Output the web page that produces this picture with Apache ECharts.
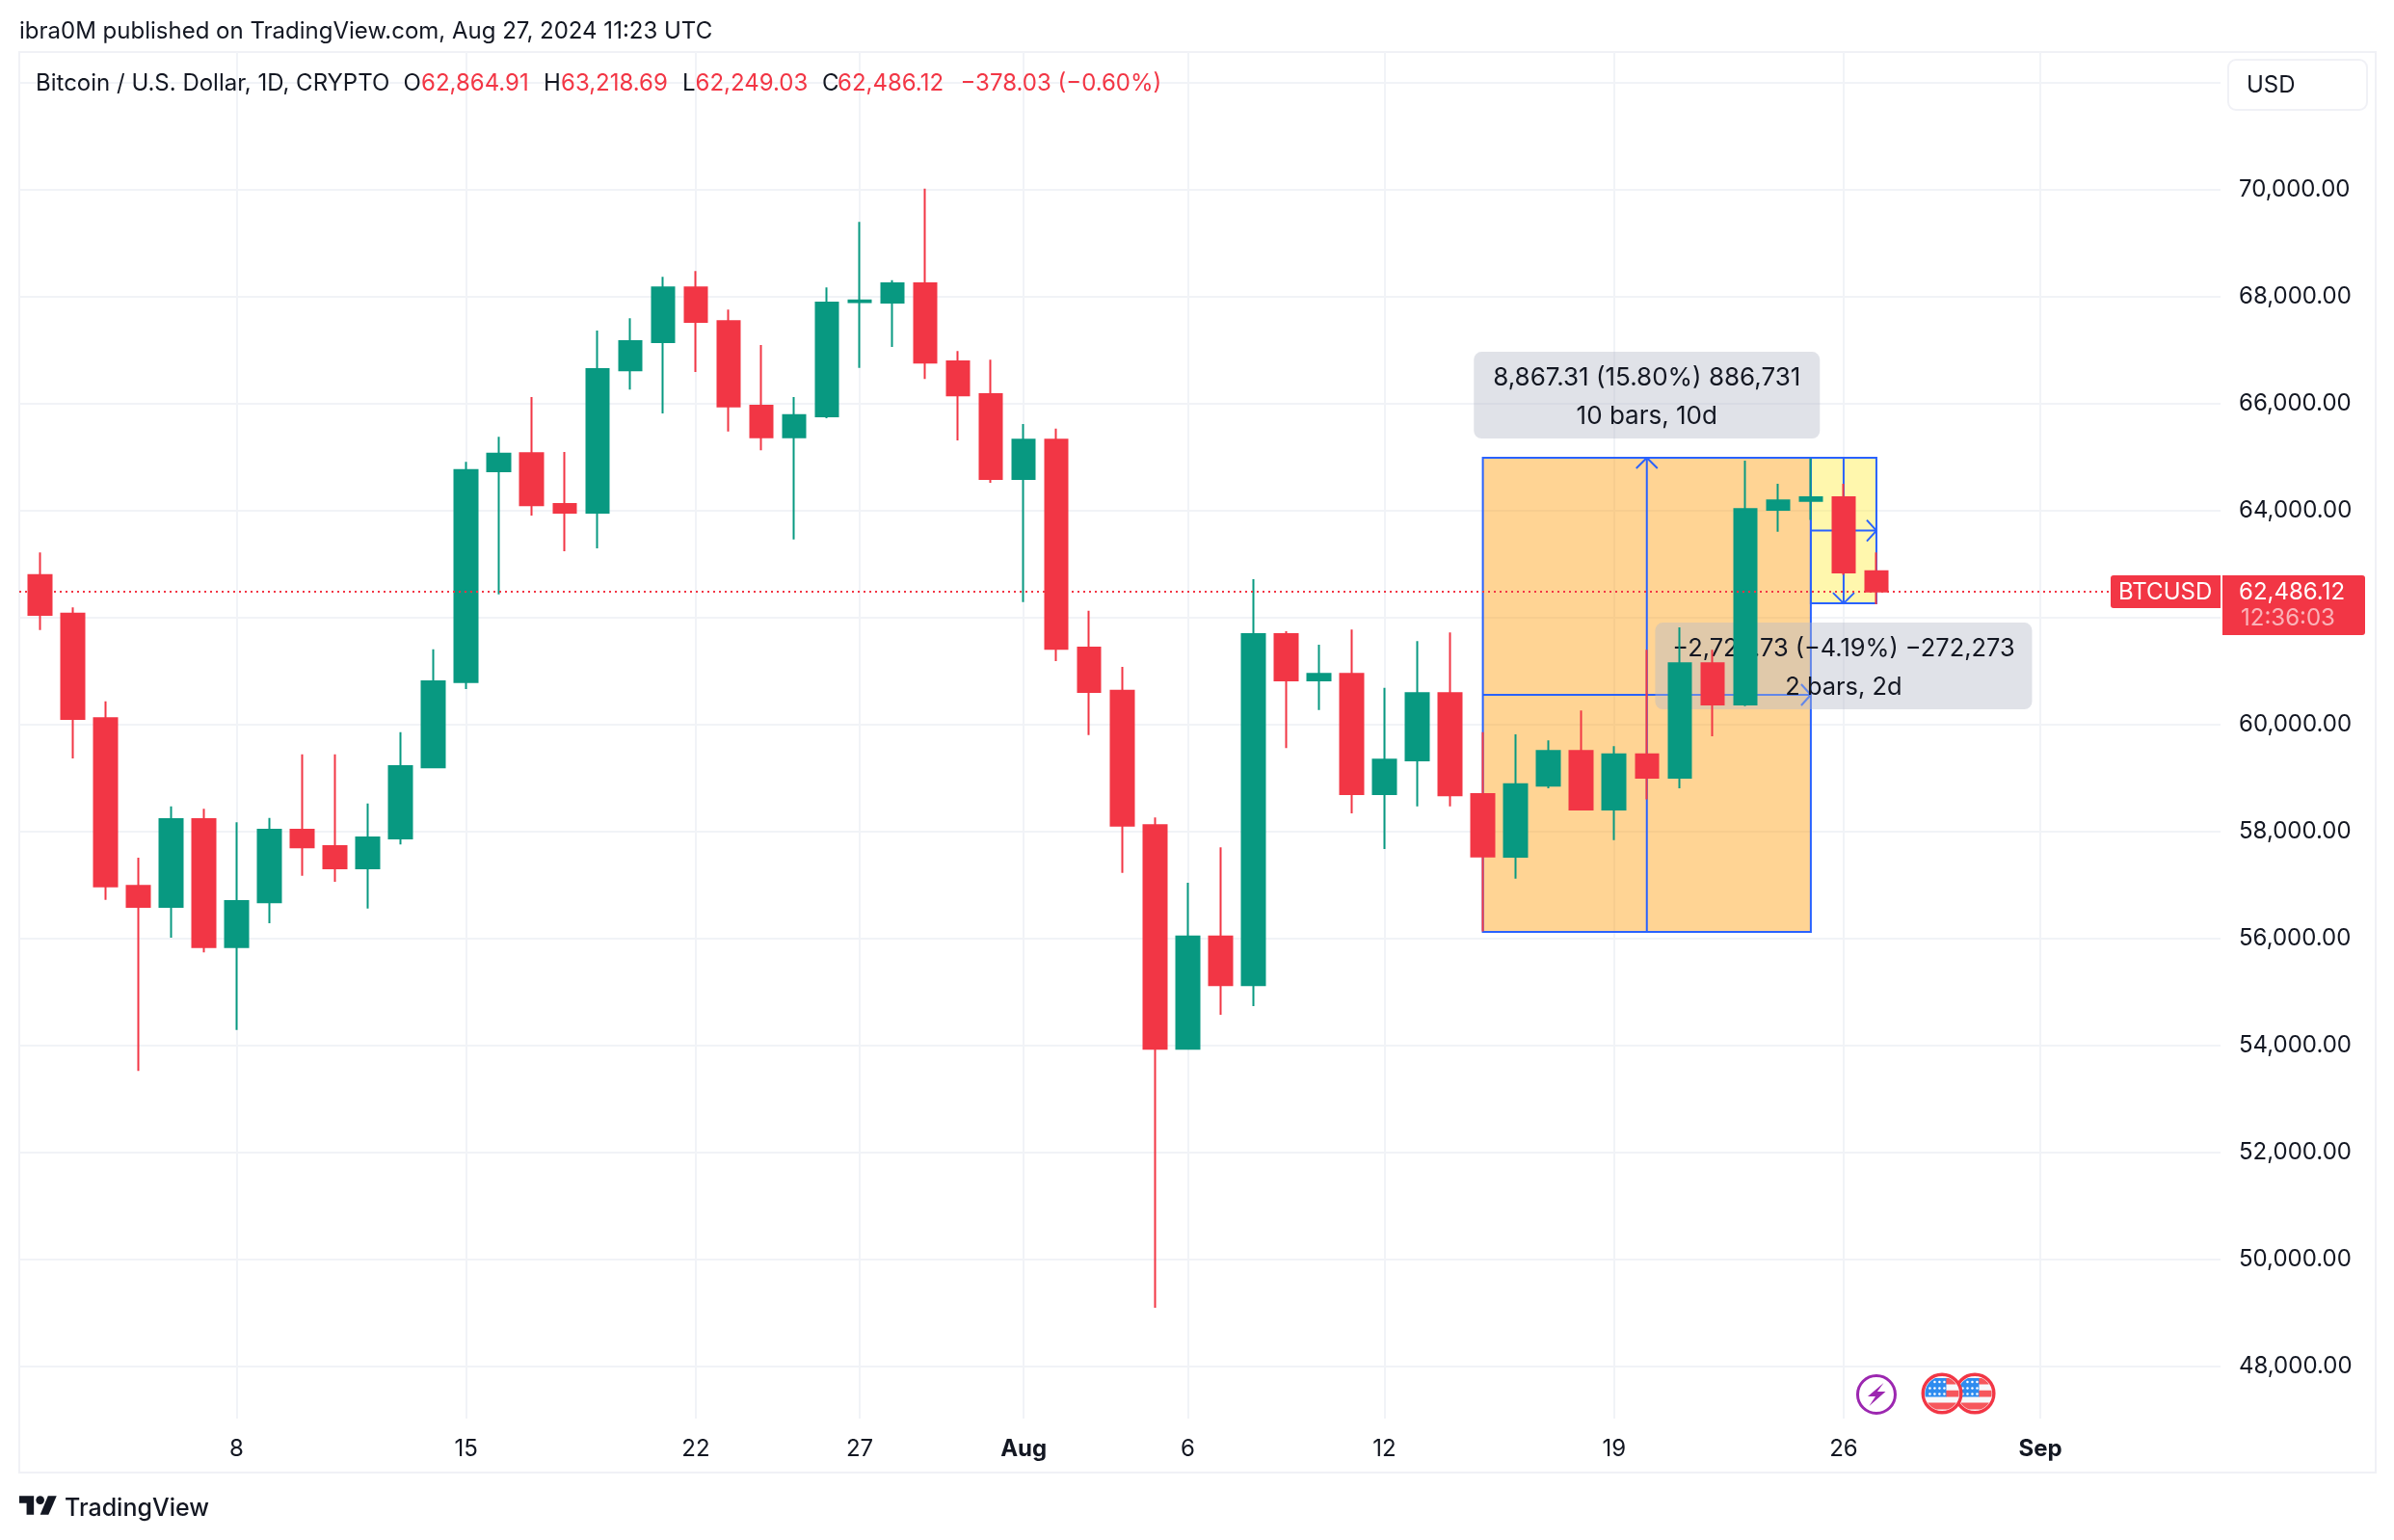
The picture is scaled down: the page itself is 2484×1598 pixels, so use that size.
<!DOCTYPE html>
<html>
<head>
<meta charset="utf-8">
<title>Bitcoin / U.S. Dollar, 1D</title>
<script src="https://cdn.jsdelivr.net/npm/echarts@6/dist/echarts.min.js"></script>
<style>html,body{margin:0;padding:0;background:#fff}#chart{width:2484px;height:1598px}</style>
</head>
<body>
<div id="chart"></div>
<script>
const barDates = ['2024-07-02','2024-07-03','2024-07-04','2024-07-05','2024-07-06','2024-07-07','2024-07-08','2024-07-09','2024-07-10','2024-07-11','2024-07-12','2024-07-13','2024-07-14','2024-07-15','2024-07-16','2024-07-17','2024-07-18','2024-07-19','2024-07-20','2024-07-21','2024-07-22','2024-07-23','2024-07-24','2024-07-25','2024-07-26','2024-07-27','2024-07-28','2024-07-29','2024-07-30','2024-07-31','2024-08-01','2024-08-02','2024-08-03','2024-08-04','2024-08-05','2024-08-06','2024-08-07','2024-08-08','2024-08-09','2024-08-10','2024-08-11','2024-08-12','2024-08-13','2024-08-14','2024-08-15','2024-08-16','2024-08-17','2024-08-18','2024-08-19','2024-08-20','2024-08-21','2024-08-22','2024-08-23','2024-08-24','2024-08-25','2024-08-26','2024-08-27'];
const opens = [62792,62071,60116,56982,56588,58227,55835,56676,58030,57725,57310,57867,59199,60793,64736,65075,64125,63961,66626,67150,68177,67543,65960,65370,65763,67900,67893,68253,66790,66178,64594,65326,61438,60630,58118,53935,56032,55125,61689,60826,60946,58696,59330,60586,58696,57526,58857,59505,58409,59439,59005,61146,60373,64015,64184,64251,62864.91];
const closes = [62049,60105,56970,56588,58227,55835,56698,58030,57703,57310,57888,59221,60805,64758,65064,64103,63961,66648,67172,68177,67532,65949,65370,65785,67893,67930,68253,66768,66156,64594,65326,61416,60608,58107,53935,56032,55125,61689,60826,60946,58696,59341,60586,58675,57528,58880,59505,58409,59439,59005,61146,60373,64030,64192,64251,62845,62486.12];
const lows = [61766,59363,56720,53519,56010,55737,54284,56283,57168,57058,56556,57757,59199,60662,62432,63906,63240,63295,66265,65818,66593,65479,65130,63459,65730,66670,67063,66462,65315,64518,62290,61187,59800,57222,49090,53935,54568,54732,59559,60269,58336,57670,58467,58467,56130,57114,58806,58409,57835,58600,58806,59777,60344,63603,63824,62800,62249.03];
const highs = [63218,62191,60433,57506,58467,58423,58172,58249,59439,59439,58522,59854,61405,64911,65381,66123,65097,67369,67598,68373,68483,67762,67096,66123,68177,69400,68308,70023,66986,66822,65621,65534,62126,61078,58260,57037,57703,62716,61744,61492,61776,60684,61558,61722,59854,59814,59704,60263,59593,61396,61815,61396,64935,64501,64979,64501,63218.69];

const priceGridValues = [48000,50000,52000,54000,56000,58000,60000,62000,64000,66000,68000,70000,72000];
const priceLabelValues = [48000,50000,52000,54000,56000,58000,60000,62000,64000,66000,68000,70000];
const timeTickDates = ['2024-07-08','2024-07-15','2024-07-22','2024-07-27','2024-08-01','2024-08-06','2024-08-12','2024-08-19','2024-08-26','2024-09-01'];
const timeTickLabels = ['8','15','22','27','Aug','6','12','19','26','Sep'];

// Two "date & price range" drawings
const rangeStarts = ['2024-08-15','2024-08-25'];
const rangeEnds = ['2024-08-25','2024-08-27'];
const rangeFromPrices = [56120,64987.31];
const rangeToPrices = [64987.31,62264.58];
const rangeFills = ['rgba(255,152,0,0.42)','rgba(255,235,59,0.42)'];
const rangeLine1 = ['8,867.31 (15.80%) 886,731','\u22122,722.73 (\u22124.19%) \u2212272,273'];
const rangeLine2 = ['10 bars, 10d','2 bars, 2d'];
const rangeFontSizes = [26, 25.4];

const eventDates = ['2024-08-27','2024-08-30','2024-08-29'];
const eventKinds = ['bolt','flag','flag'];

const lastPrice = 62486.12;

const RED = '#F23645', GREEN = '#089981', INK = '#131722', GRID = '#F1F3F7', BLUE = '#2962FF';
const FONT = 'Inter, "Noto Sans", sans-serif';
const SZ = 24;

const dayIndex = d => Math.round((Date.parse(d) - Date.parse(barDates[0])) / 864e5);
const candleRows = barDates.map((d, i) => [i, opens[i], closes[i], lows[i], highs[i]]);
const timeTickIdx = timeTickDates.map(dayIndex);
const rangeRows = rangeStarts.map((d, i) => [dayIndex(d), dayIndex(rangeEnds[i]), rangeFromPrices[i], rangeToPrices[i], i]);
const eventRows = eventDates.map((d, i) => [dayIndex(d), i]);

function line(x1, y1, x2, y2, color, w) {
  return {type: 'line', shape: {x1, y1, x2, y2}, style: {stroke: color || BLUE, lineWidth: w || 2, fill: null}};
}

function renderRange(params, api) {
  const x0 = api.coord([api.value(0), api.value(2)])[0], x1 = api.coord([api.value(1), api.value(2)])[0];
  const yFrom = api.coord([api.value(0), api.value(2)])[1], yTo = api.coord([api.value(0), api.value(3)])[1];
  const top = Math.min(yFrom, yTo), bot = Math.max(yFrom, yTo);
  const mx = (x0 + x1) / 2, my = (top + bot) / 2;
  const i = api.value(4);
  const tipY = yTo, dir = yTo < yFrom ? 1 : -1;
  return {type: 'group', silent: true, children: [
    {type: 'rect', shape: {x: x0, y: top, width: x1 - x0, height: bot - top}, style: {fill: rangeFills[i], stroke: BLUE, lineWidth: 2}},
    line(x0, my, x1, my), line(mx, top, mx, bot),
    line(x1 - 10, my - 11, x1, my), line(x1 - 10, my + 11, x1, my),
    line(mx - 11, tipY + dir * 11, mx, tipY), line(mx + 11, tipY + dir * 11, mx, tipY)
  ]};
}

function renderRangeLabel(params, api) {
  const x0 = api.coord([api.value(0), api.value(2)])[0], x1 = api.coord([api.value(1), api.value(2)])[0];
  const yFrom = api.coord([api.value(0), api.value(2)])[1], yTo = api.coord([api.value(0), api.value(3)])[1];
  const i = api.value(4);
  const mx = (x0 + x1) / 2;
  const w = i === 0 ? 359 : 391, h = 90;
  const up = yTo < yFrom;
  const by = up ? yTo - 20 - h : yTo + 20;
  const txt = (t, y) => ({type: 'text', style: {text: t, x: mx, y, align: 'center', verticalAlign: 'middle', fill: INK, font: rangeFontSizes[i] + 'px ' + FONT}});
  return {type: 'group', silent: true, children: [
    {type: 'rect', shape: {x: mx - w / 2, y: by, width: w, height: h, r: 8}, style: {fill: 'rgba(181,186,200,0.42)'}},
    txt(rangeLine1[i], by + 27), txt(rangeLine2[i], by + 67)
  ]};
}

function diskBand(cx, cy, r, x0, x1, y0, y1, fill) {
  const right = [], left = [], n = 14;
  for (let k = 0; k <= n; k++) {
    const y = y0 + (y1 - y0) * k / n, s = Math.sqrt(Math.max(0, r * r - y * y));
    right.push([cx + Math.min(x1, s), cy + y]);
    left.unshift([cx + Math.max(x0, -s), cy + y]);
  }
  return {type: 'polygon', shape: {points: right.concat(left)}, style: {fill}};
}

function renderEvent(params, api) {
  const cx = api.coord([api.value(0), 60000])[0];
  const cy = api.coord([0, 47016])[1] - 26;
  const kind = eventKinds[api.value(1)];
  if (kind === 'bolt') {
    return {type: 'group', silent: true, children: [
      {type: 'circle', shape: {cx, cy: cy + 1, r: 19.5}, style: {fill: '#fff', stroke: '#9C27B0', lineWidth: 3}},
      {type: 'polygon', shape: {points: [[7.5,-12],[-9,2],[-1,2],[-7.5,12],[9.5,-3],[1,-3]].map(p => [cx + p[0], cy + 1 + p[1]])}, style: {fill: '#9C27B0'}}
    ]};
  }
  const r = 17.5, stripe = '#F6575C', kids = [
    {type: 'circle', shape: {cx, cy, r: 19.8}, style: {fill: '#F7F8FA', stroke: RED, lineWidth: 3.4}},
    diskBand(cx, cy, r, 4, 20, -16, -9.6, stripe),
    diskBand(cx, cy, r, 4, 20, -3.2, 3.4, stripe),
    diskBand(cx, cy, r, -20, 20, 9.4, 16.5, stripe),
    diskBand(cx, cy, r, -20, 4.4, -16, 3.4, '#2E8CEF')
  ];
  [-11.5, -5, 1].forEach((y, j) => [-12, -7, -2, 3].forEach(x => {
    if (x * x + y * y < 225) kids.push({type: 'circle', shape: {cx: cx + x - 0.6, cy: cy + y - 0.5, r: 1.25}, style: {fill: '#fff'}});
  }));
  return {type: 'group', silent: true, children: kids};
}

function hdr(text, x, y, fill, extra) {
  return Object.assign({type: 'text', x, y, silent: true, z: 20, style: {text, fill: fill || INK, font: SZ + 'px ' + FONT, verticalAlign: 'middle'}}, extra || {});
}

const chart = echarts.init(document.getElementById('chart'), null, {renderer: 'canvas'});
chart.setOption({
  animation: false,
  backgroundColor: '#ffffff',
  textStyle: {fontFamily: FONT},
  grid: {left: 20, right: 180, top: 54, bottom: 126, containLabel: false},
  xAxis: {
    type: 'value',
    min: -0.6259, max: 66.492,
    axisLine: {show: false},
    axisTick: {show: false, customValues: timeTickIdx},
    splitLine: {show: true, lineStyle: {color: GRID, width: 2}},
    axisLabel: {
      customValues: timeTickIdx,
      margin: 20,
      color: INK,
      fontSize: SZ,
      fontFamily: FONT,
      formatter: v => {
        const t = timeTickLabels[timeTickIdx.indexOf(v)];
        return (t === 'Aug' || t === 'Sep') ? '{b|' + t + '}' : t;
      },
      rich: {b: {fontWeight: 700, fontSize: SZ, fontFamily: FONT, color: INK}}
    }
  },
  yAxis: {
    type: 'value',
    position: 'right',
    min: 47016, max: 72578,
    scale: true,
    axisLine: {show: false},
    axisTick: {show: false, customValues: priceGridValues},
    splitLine: {show: true, lineStyle: {color: GRID, width: 2}},
    axisLabel: {
      customValues: priceLabelValues,
      margin: 19,
      color: INK,
      fontSize: SZ,
      fontFamily: FONT,
      padding: [0, 0, 4, 0],
      formatter: v => v.toLocaleString('en-US', {minimumFractionDigits: 2, maximumFractionDigits: 2})
    }
  },
  series: [
    {type: 'custom', name: 'Ranges', z: 2, clip: false, renderItem: renderRange, encode: {x: [0, 1], y: [2, 3]}, data: rangeRows},
    {type: 'custom', name: 'Range labels', z: 3, clip: false, renderItem: renderRangeLabel, encode: {x: [0, 1], y: [2, 3]}, data: rangeRows},
    {
      type: 'candlestick', name: 'BTCUSD', z: 4, barWidth: 24,
      encode: {x: 0, y: [1, 2, 3, 4]},
      itemStyle: {color: GREEN, color0: RED, borderColor: GREEN, borderColor0: RED, borderWidth: 2},
      data: candleRows,
      markLine: {
        silent: true, symbol: 'none', animation: false, z: 5,
        label: {show: false},
        lineStyle: {color: RED, width: 2, type: [2, 4], opacity: 1},
        data: [{yAxis: lastPrice}]
      }
    },
    {type: 'custom', name: 'Events', z: 6, clip: false, renderItem: renderEvent, encode: {x: 0}, data: eventRows}
  ],
  graphic: {elements: [
    {type: 'rect', silent: true, z: -1, shape: {x: 20, y: 54, width: 2445, height: 1474}, style: {fill: null, stroke: '#F0F1F6', lineWidth: 2}},
    hdr('ibra0M published on TradingView.com, Aug 27, 2024 11:23 UTC', 20, 33),
    hdr('Bitcoin / U.S. Dollar, 1D, CRYPTO', 37, 86.5),
    hdr('O', 418.5, 86.5), hdr('62,864.91', 437, 86.5, RED),
    hdr('H', 564, 86.5), hdr('63,218.69', 582, 86.5, RED),
    hdr('L', 708, 86.5), hdr('62,249.03', 721.5, 86.5, RED),
    hdr('C', 853, 86.5), hdr('62,486.12', 869, 86.5, RED),
    hdr('\u2212378.03 (\u22120.60%)', 996.5, 86.5, RED),
    {type: 'rect', silent: true, z: 20, shape: {x: 2312, y: 62, width: 144, height: 52, r: 8}, style: {fill: '#fff', stroke: '#F0F1F6', lineWidth: 2}},
    hdr('USD', 2331, 88.5, INK, {z: 21}),
    {type: 'rect', silent: true, z: 20, shape: {x: 2190, y: 597, width: 114, height: 34, r: [3, 0, 0, 3]}, style: {fill: RED}},
    {type: 'rect', silent: true, z: 20, shape: {x: 2306, y: 597, width: 148, height: 62, r: [0, 3, 3, 0]}, style: {fill: RED}},
    hdr('BTCUSD', 2198, 614.5, '#fff', {z: 21}),
    hdr('62,486.12', 2323, 614.5, '#fff', {z: 21}),
    hdr('12:36:03', 2325, 642, 'rgba(255,255,255,0.62)', {z: 21}),
    {type: 'group', silent: true, x: 20, y: 1548, scaleX: 1.083, scaleY: 1.078, children: [
      {type: 'polygon', shape: {points: [[14,22],[7,22],[7,11],[0,11],[0,4],[14,4]]}, style: {fill: INK}},
      {type: 'polygon', shape: {points: [[28,22],[20,22],[27.5,4],[35.8,4]]}, style: {fill: INK}},
      {type: 'circle', shape: {cx: 20, cy: 8, r: 4}, style: {fill: INK}}
    ]},
    hdr('TradingView', 67, 1565, INK, {style: {text: 'TradingView', fill: INK, font: '500 25px ' + FONT, verticalAlign: 'middle'}})
  ]}
});
</script>
</body>
</html>
